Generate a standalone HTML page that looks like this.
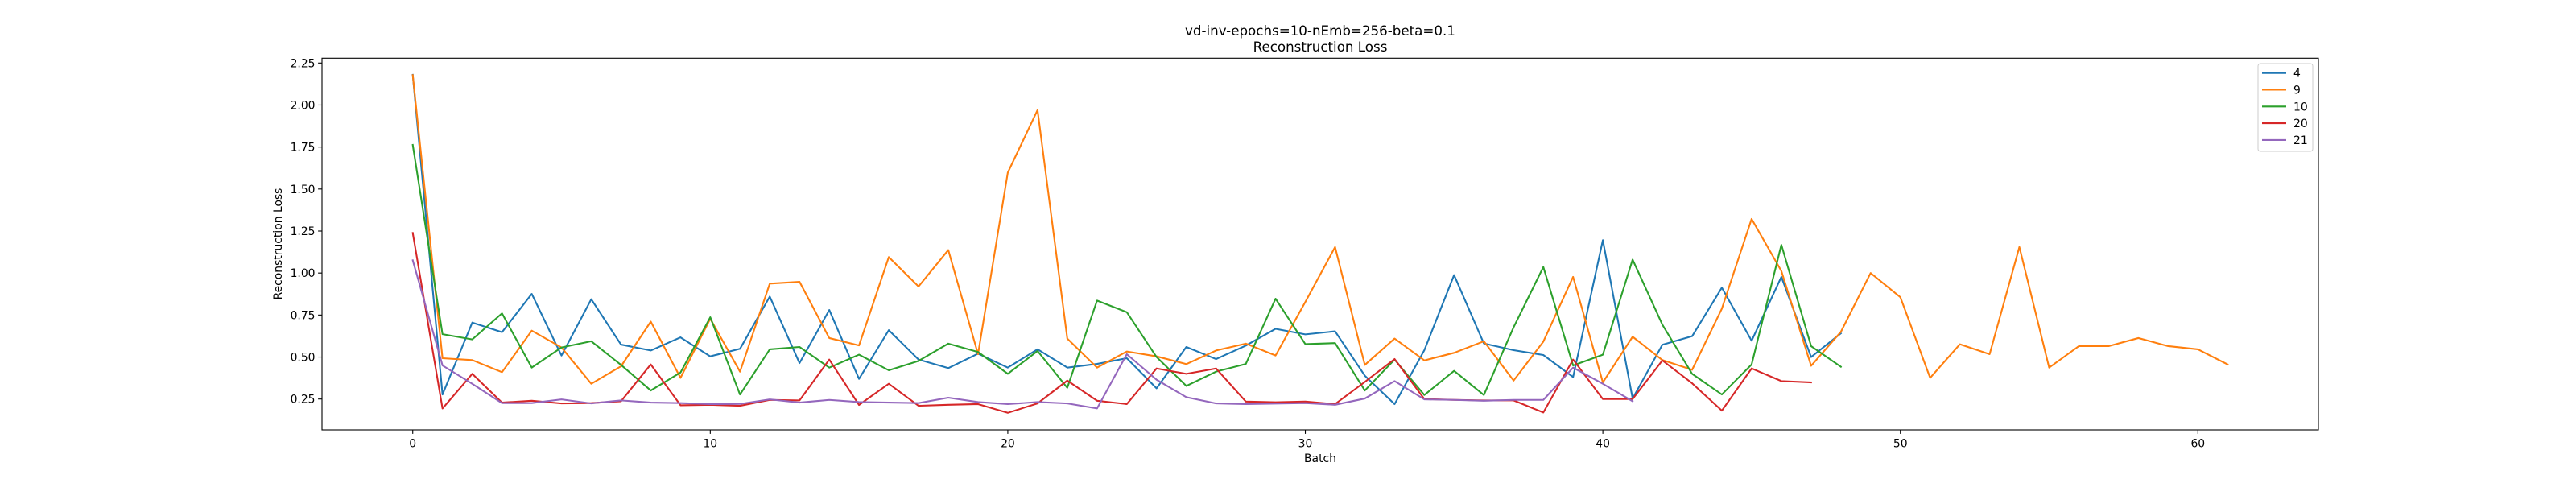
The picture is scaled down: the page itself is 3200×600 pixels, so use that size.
<!DOCTYPE html>
<html><head><meta charset="utf-8"><style>
html,body{margin:0;padding:0;background:#fff;}
svg{display:block;font-family:"DejaVu Sans","Liberation Sans",sans-serif;}
</style></head><body>
<svg id="chart" width="3200" height="600" viewBox="0 0 3200 600" xmlns="http://www.w3.org/2000/svg">
<rect x="0" y="0" width="3200" height="600" fill="#fff"/>
<text x="1640" y="44" text-anchor="middle" font-size="16.7">vd-inv-epochs=10-nEmb=256-beta=0.1</text>
<text x="1640" y="64" text-anchor="middle" font-size="16.7">Reconstruction Loss</text>
<text x="1640" y="574" text-anchor="middle" font-size="13.9">Batch</text>
<text x="350" y="303" text-anchor="middle" font-size="13.9" transform="rotate(-90 350 303)">Reconstruction Loss</text>
<g id="plot"></g>
</svg>
<script>
const xTicks = [0, 10, 20, 30, 40, 50, 60];
const yTicks = [0.25, 0.50, 0.75, 1.00, 1.25, 1.50, 1.75, 2.00, 2.25];
const yTickLabels = ["0.25", "0.50", "0.75", "1.00", "1.25", "1.50", "1.75", "2.00", "2.25"];
const seriesNames = ["4", "9", "10", "20", "21"];
const seriesColors = ["#1f77b4", "#ff7f0e", "#2ca02c", "#d62728", "#9467bd"];
const s4 = [2.18,0.277,0.705,0.648,0.876,0.509,0.844,0.574,0.539,0.617,0.504,0.549,0.86,0.464,0.78,0.37,0.66,0.485,0.434,0.52,0.437,0.546,0.437,0.459,0.493,0.314,0.56,0.488,0.568,0.668,0.635,0.653,0.389,0.22,0.541,0.988,0.581,0.541,0.512,0.381,1.196,0.253,0.573,0.624,0.913,0.597,0.977,0.50,0.641];
const s9 = [2.178,0.493,0.482,0.41,0.657,0.557,0.341,0.445,0.711,0.376,0.728,0.413,0.937,0.948,0.613,0.569,1.095,0.92,1.137,0.517,1.598,1.97,0.61,0.437,0.533,0.504,0.458,0.539,0.58,0.509,0.828,1.155,0.453,0.61,0.48,0.525,0.594,0.36,0.592,0.977,0.349,0.621,0.482,0.424,0.788,1.322,1.012,0.448,0.65,1.0,0.856,0.376,0.576,0.517,1.155,0.437,0.565,0.565,0.613,0.565,0.546,0.456];
const s10 = [1.763,0.636,0.605,0.76,0.437,0.557,0.594,0.453,0.301,0.408,0.737,0.277,0.546,0.56,0.437,0.514,0.421,0.477,0.58,0.53,0.4,0.536,0.317,0.836,0.767,0.5,0.328,0.413,0.459,0.847,0.577,0.583,0.301,0.485,0.274,0.418,0.274,0.677,1.036,0.45,0.514,1.08,0.693,0.4,0.277,0.456,1.168,0.565,0.442];
const s20 = [1.239,0.194,0.4,0.229,0.24,0.224,0.226,0.237,0.456,0.213,0.216,0.21,0.245,0.242,0.485,0.215,0.341,0.21,0.216,0.22,0.168,0.224,0.36,0.24,0.22,0.432,0.4,0.432,0.235,0.231,0.235,0.22,0.352,0.488,0.25,0.245,0.242,0.242,0.17,0.485,0.25,0.25,0.48,0.344,0.181,0.432,0.357,0.349];
const s21 = [1.076,0.45,0.341,0.226,0.226,0.248,0.224,0.242,0.229,0.226,0.22,0.221,0.248,0.229,0.245,0.232,0.229,0.226,0.258,0.232,0.22,0.232,0.224,0.194,0.517,0.365,0.261,0.224,0.22,0.223,0.226,0.216,0.253,0.357,0.248,0.245,0.24,0.245,0.245,0.437,0.341,0.237];
const allSeries = [s4, s9, s10, s20, s21];

const AX = {left:400, right:2880, top:72.3, bottom:534};
const X0 = -3.05, X1 = 64.05;
const Y0 = 2.25 + 6/208.7, Y1 = 2.25 - (534-78.3)/208.7;
function xScale(v){ return AX.left + (v - X0) / (X1 - X0) * (AX.right - AX.left); }
function yScale(v){ return AX.top + (Y0 - v) / (Y0 - Y1) * (AX.bottom - AX.top); }

const NS = "http://www.w3.org/2000/svg";
const plot = document.getElementById('plot');
function mk(tag, attrs, parent){
  const e = document.createElementNS(NS, tag);
  for (const k in attrs) e.setAttribute(k, attrs[k]);
  (parent || plot).appendChild(e);
  return e;
}

allSeries.forEach((vals, si) => {
  const pts = vals.map((v, i) => xScale(i).toFixed(2) + "," + yScale(v).toFixed(2)).join(" ");
  const pl = mk('polyline', {points: pts, fill: 'none', stroke: seriesColors[si], 'stroke-width': 2.08, 'stroke-linejoin': 'round', 'stroke-linecap': 'square'});
  
  
});

const frame = mk('rect', {x: AX.left, y: AX.top, width: AX.right - AX.left, height: AX.bottom - AX.top, fill: 'none', stroke: '#000', 'stroke-width': 1.1});



xTicks.forEach(t => {
  const x = xScale(t);
  const tk = mk('line', {x1: x, x2: x, y1: AX.bottom, y2: AX.bottom + 4.9, stroke: '#000', 'stroke-width': 1.1});
  
  
  const lb = mk('text', {x: x, y: AX.bottom + 21.5, 'text-anchor': 'middle', 'font-size': 13.9});
  lb.textContent = String(t);
  
  
});

yTicks.forEach((t, i) => {
  const y = yScale(t);
  const tk = mk('line', {x1: AX.left - 4.9, x2: AX.left, y1: y, y2: y, stroke: '#000', 'stroke-width': 1.1});
  
  
  const lb = mk('text', {x: AX.left - 8.5, y: y + 5, 'text-anchor': 'end', 'font-size': 13.9});
  lb.textContent = yTickLabels[i];
  
  
});

const lg = mk('g', {});


const lbox = mk('rect', {x: 2805, y: 79, width: 68, height: 109, rx: 3, fill: '#fff', 'fill-opacity': 0.8, stroke: '#ccc', 'stroke-width': 1}, lg);


seriesNames.forEach((n, i) => {
  const y = 90.7 + i * 20.8;
  const ln = mk('line', {x1: 2810, x2: 2840, y1: y, y2: y, stroke: seriesColors[i], 'stroke-width': 2.08}, lg);
  
  
  const tx = mk('text', {x: 2849, y: y + 5, 'font-size': 13.9}, lg);
  tx.textContent = n;
  
  
});
</script>
</body></html>
